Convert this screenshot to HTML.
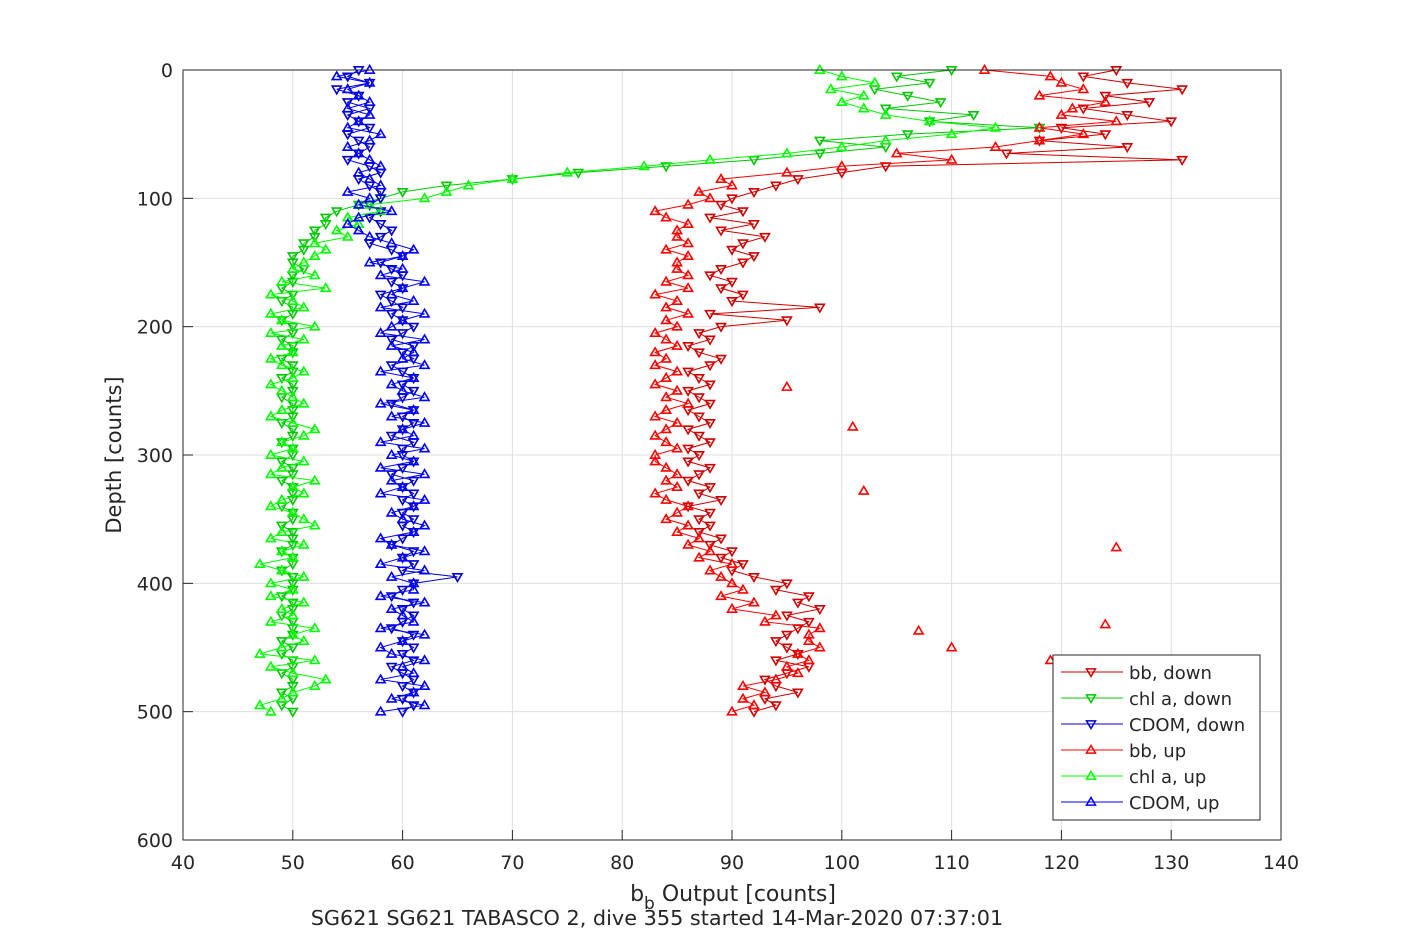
<!DOCTYPE html>
<html><head><meta charset="utf-8">
<style>
html,body{margin:0;padding:0;background:#fff;}
body{width:1417px;height:945px;overflow:hidden;font-family:"Liberation Sans","DejaVu Sans",sans-serif;}
text{font-family:"DejaVu Sans","Liberation Sans",sans-serif;fill:#262626;}
</style></head>
<body>
<svg id="chart" width="1417" height="945" xmlns="http://www.w3.org/2000/svg">
<g id="grid"></g>
<g id="series"></g>
<g id="axes"></g>
<text x="733" y="901" font-size="22" text-anchor="middle">b<tspan font-size="17" dy="8">b</tspan><tspan dy="-8"> Output [counts]</tspan></text>
<text x="657" y="925" font-size="20.8" text-anchor="middle">SG621 SG621 TABASCO 2, dive 355 started 14-Mar-2020 07:37:01</text>
<text x="121" y="455" font-size="21" text-anchor="middle" transform="rotate(-90 121 455)">Depth [counts]</text>
<g id="legend"></g>
</svg>
<script>
const xTicks=[40,50,60,70,80,90,100,110,120,130,140];
const yTicks=[0,100,200,300,400,500,600];
const downDepth=[0,5,10,15,20,25,30,35,40,45,50,55,60,65,70,75,80,85,90,95,100,105,110,115,120,125,130,135,140,145,150,155,160,165,170,175,180,185,190,195,200,205,210,215,220,225,230,235,240,245,250,255,260,265,270,275,280,285,290,295,300,305,310,315,320,325,330,335,340,345,350,355,360,365,370,375,380,385,390,395,400,405,410,415,420,425,430,435,440,445,450,455,460,465,470,475,480,485,490,495,500];
const upDepth=[500,495,490,485,480,475,470,465,460,455,450,445,440,435,430,425,420,415,410,405,400,395,390,385,380,375,370,365,360,355,350,345,340,335,330,325,320,315,310,305,300,295,290,285,280,275,270,265,260,255,250,245,240,235,230,225,220,215,210,205,200,195,190,185,180,175,170,165,160,155,150,145,140,135,130,125,120,115,110,105,100,95,90,85,80,75,70,65,60,55,50,45,40,35,30,25,20,15,10,5,0];
const bbDownVal=[125,122,126,131,124,128,122,126,130,120,124,118,126,115,131,104,100,96,94,92,
90,89,91,88,92,89,93,91,90,92,91,89,88,90,89,91,90,98,88,95,
89,87,88,86,87,89,88,86,87,88,86,87,88,86,87,88,86,87,88,86,
87,86,88,87,86,88,87,89,86,88,87,88,87,89,88,90,89,91,90,92,
95,94,97,96,98,95,97,96,95,94,95,96,94,97,95,93,94,96,93,94,92];
const bbUpVal=[90,92,91,93,91,94,96,95,97,96,98,97,97,98,93,94,90,92,89,91,
90,89,88,90,87,88,86,87,85,86,84,85,86,84,83,85,84,85,84,83,
83,85,84,83,84,85,83,84,86,84,85,83,84,85,83,84,83,85,84,83,
85,84,86,84,85,83,86,84,86,85,85,86,84,86,85,85,86,84,83,86,
88,87,90,89,95,100,110,105,114,118,122,118,125,120,121,124,118,122,120,119,113];
const bbOutDepth=[278,372,432,460,450,437,247,328];
const bbOutVal=[101,125,124,119,110,107,95,102];
const chlDownVal=[110,105,108,103,106,109,104,112,108,118,106,98,104,98,92,84,76,70,64,60,
58,56,54,53,53,52,52,51,51,50,50,51,50,50,49,50,49,50,50,49,
50,50,49,50,50,49,50,50,49,50,50,49,50,50,50,49,50,50,49,50,
50,49,50,50,49,50,50,50,49,50,50,49,50,50,50,49,50,50,49,50,
50,50,49,50,50,49,50,50,50,49,50,49,50,50,49,50,50,49,50,49,50];
const chlUpVal=[48,47,49,50,52,53,50,48,52,47,49,51,50,52,48,50,49,51,48,50,
48,51,49,47,50,49,51,48,49,52,51,50,48,49,51,50,52,48,49,51,
48,50,49,51,52,50,48,49,51,50,49,48,50,51,49,48,50,49,51,48,
52,49,48,51,50,48,53,49,52,50,51,52,53,52,55,54,56,55,58,57,
62,64,66,70,75,82,88,95,100,104,110,114,108,104,102,100,102,99,103,100,98];
const cdomDownVal=[56,55,57,54,56,55,57,55,56,57,55,56,57,56,55,57,58,56,57,58,
58,57,58,57,58,59,58,57,59,60,58,59,60,59,60,58,59,60,59,60,
61,60,59,61,60,61,59,60,61,60,61,60,59,61,60,61,60,59,61,60,
60,61,60,59,61,60,61,60,61,60,61,60,61,60,59,61,60,61,60,65,
61,60,59,61,60,61,60,59,61,60,61,60,61,59,60,61,60,61,60,61,60];
const cdomUpVal=[58,62,59,61,62,58,61,60,62,59,58,60,62,58,61,60,59,62,58,61,
61,59,62,58,60,62,59,58,61,62,60,59,61,62,58,60,59,62,58,61,
59,62,58,61,60,62,59,61,58,62,60,59,61,58,62,60,61,59,62,58,
59,60,62,58,61,59,60,62,58,60,57,60,61,59,57,56,55,56,59,56,
57,55,58,57,56,58,57,56,55,57,58,55,56,57,55,57,56,55,57,54,57];

const X0=183,X1=1281,Y0=70,Y1=840;
const xs=v=>X0+(v-40)/(140-40)*(X1-X0);
const ys=d=>Y0+d/600*(Y1-Y0);
const NS='http://www.w3.org/2000/svg';
function mk(tag,attrs,parent){const e=document.createElementNS(NS,tag);for(const k in attrs)e.setAttribute(k,attrs[k]);parent.appendChild(e);return e;}
const grid=document.getElementById('grid'),axes=document.getElementById('axes'),ser=document.getElementById('series'),leg=document.getElementById('legend');
xTicks.forEach(t=>{
  const l=mk('line',{x1:xs(t),x2:xs(t),y1:Y0,y2:Y1,stroke:'#dfdfdf','stroke-width':1},grid);
  
  
  const tk=mk('line',{x1:xs(t),x2:xs(t),y1:Y1,y2:Y1-10,stroke:'#262626'},axes);
  
  
  const tx=mk('text',{x:xs(t),y:Y1+29,'font-size':19,'text-anchor':'middle'},axes);tx.textContent=t;
  
  
});
yTicks.forEach(t=>{
  const l=mk('line',{x1:X0,x2:X1,y1:ys(t),y2:ys(t),stroke:'#dfdfdf','stroke-width':1},grid);
  
  
  const tk=mk('line',{x1:X0,x2:X0+10,y1:ys(t),y2:ys(t),stroke:'#262626'},axes);
  
  
  const tx=mk('text',{x:X0-10,y:ys(t)+7,'font-size':19,'text-anchor':'end'},axes);tx.textContent=t;
  
  
});
const box=mk('rect',{x:X0,y:Y0,width:X1-X0,height:Y1-Y0,fill:'none',stroke:'#262626','stroke-width':1},axes);



function tri(x,y,down){const s=4.5;return down?`${x-s},${y-s*0.7} ${x+s},${y-s*0.7} ${x},${y+s}`:`${x-s},${y+s*0.7} ${x+s},${y+s*0.7} ${x},${y-s}`;}
function series(name,depth,vals,color,down,drawLine){
  const g=mk('g',{},ser);
  
  
  const n=Math.min(depth.length,vals.length);
  if(drawLine){
    const pts=[];for(let i=0;i<n;i++)pts.push(xs(vals[i])+','+ys(depth[i]));
    const pl=mk('polyline',{points:pts.join(' '),fill:'none',stroke:color,'stroke-width':1},g);
    
    
  }
  for(let i=0;i<n;i++){
    const p=mk('polygon',{points:tri(xs(vals[i]),ys(depth[i]),down),fill:'none',stroke:color,'stroke-width':1.6},g);
    
    
  }
}
series('bb-down',downDepth,bbDownVal,'#d00000',true,true);
series('chl-a-down',downDepth,chlDownVal,'#00c800',true,true);
series('cdom-down',downDepth,cdomDownVal,'#0000d0',true,true);
series('bb-up',upDepth,bbUpVal,'#ff0000',false,true);
series('bb-up-outliers',bbOutDepth,bbOutVal,'#ff0000',false,false);
series('chl-a-up',upDepth,chlUpVal,'#00ff00',false,true);
series('cdom-up',upDepth,cdomUpVal,'#0000ff',false,true);

const lb=mk('rect',{x:1053,y:655,width:207,height:165,fill:'#fff',stroke:'#262626','stroke-width':1},leg);


const legNames=['bb, down','chl a, down','CDOM, down','bb, up','chl a, up','CDOM, up'];
const legColors=['#d00000','#00c800','#0000d0','#ff0000','#00ff00','#0000ff'];
legNames.forEach((nm,i)=>{
  const y=672+i*26;
  const g=mk('g',{},leg);
  
  
  mk('line',{x1:1061,x2:1123,y1:y,y2:y,stroke:legColors[i],'stroke-width':1},g);
  mk('polygon',{points:tri(1091,y,i<3),fill:'none',stroke:legColors[i],'stroke-width':1.5},g);
  const t=mk('text',{x:1129,y:y+7,'font-size':18},g);t.textContent=nm;t.setAttribute('fill','#000');
});
</script>
</body></html>
